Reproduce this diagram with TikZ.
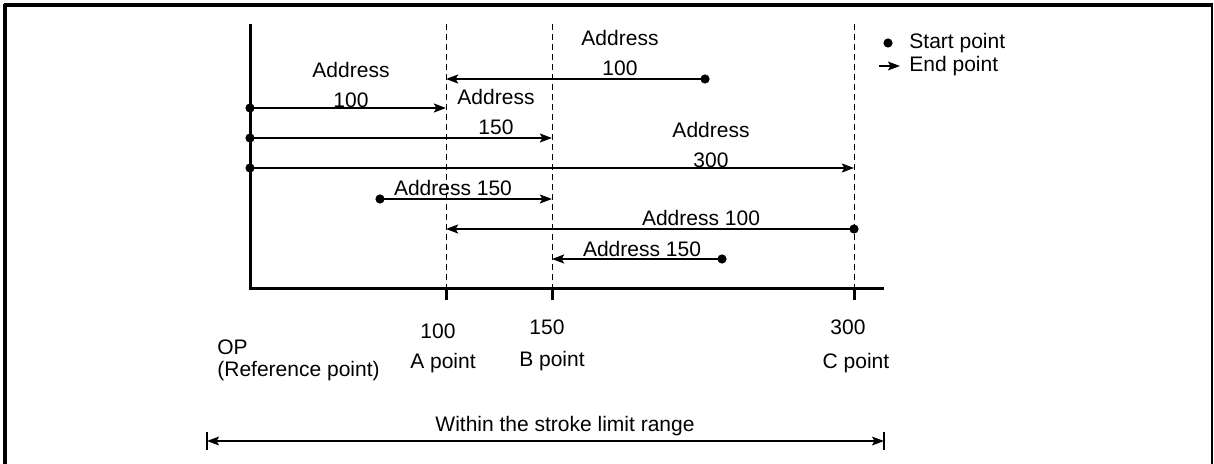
\documentclass[tikz,border=0pt]{standalone}
\usepackage{fontspec}
\setmainfont{Liberation Sans}
\usetikzlibrary{arrows.meta, positioning}
\tikzset{
  >={Stealth[length=6pt,width=4.4pt,inset=1.2pt]},
  lbl/.style={font=\fontsize{10.5}{15}\selectfont, inner sep=0pt, align=center},
  axisline/.style={line width=1.5pt},
  guide/.style={line width=0.5pt, dash pattern=on 3pt off 2pt},
  move/.style={line width=1.2pt, ->},
  tickmark/.style={line width=1.5pt},
  strokerange/.style={line width=0.65pt, <->}
}

\begin{document}
\begin{tikzpicture}[x=0.5pt,y=-0.5pt]
  \useasboundingbox (0,0) rectangle (1214,464);
  % frame, open at the bottom
  \draw[line width=1.8pt] (5,464) -- (5,4);
  \draw[line width=2pt] (4,5) -- (1213,5);
  \draw[line width=1.2pt] (1212,4) -- (1212,464);

  % axes
  \coordinate (O) at (250,289);
  \coordinate (ytop) at (250,24);
  \coordinate (xend) at (884,289);
  \draw[axisline] (ytop) -- (O) -- (xend);

  % A, B, C points
  \foreach \name/\x/\val/\vx/\vy/\px/\py in {
      A/446/100/438/331/443/363,
      B/552/150/547/327/552/361,
      C/854/300/848/327/856/363} {
    \coordinate (\name) at (\x,289);
    \coordinate (\name top) at (\x,24);
    \draw[guide] (\name top) -- (\name);
    \draw[tickmark] (\name) -- ++(0,11);
    \node[lbl] (val\name) at (\vx,\vy) {\val};
    \node[lbl] (pt\name) at (\px,\py) {\name\ point};
  }

  % moves: start dot -> end point
  \foreach \n/\sx/\ex/\y in {1/705/446/79, 2/250/446/108, 3/250/552/138,
      4/250/854/168, 5/380/552/199, 6/854/446/229, 7/722/552/259} {
    \coordinate (s\n) at (\sx,\y);
    \coordinate (e\n) at (\ex,\y);
    \draw[move] (s\n) -- (e\n);
    \fill (s\n) circle (2.3pt);
  }

  % address labels
  \node[lbl] (adr1) at (620,53) {Address\\100};
  \node[lbl] (adr2) at (351,85) {Address\\100};
  \node[lbl] (adr3) at (496,112) {Address\\150};
  \node[lbl] (adr4) at (711,145) {Address\\300};
  \node[lbl] (adr5) at (453,188) {Address 150};
  \node[lbl] (adr6) at (701,218) {Address 100};
  \node[lbl] (adr7) at (642,249) {Address 150};

  % reference point
  \node[lbl, align=left, anchor=west] (op) at (217,360) {OP\\[-4pt](Reference point)};

  % legend
  \coordinate (legdot) at (888,43);
  \coordinate (legfrom) at (879,66);
  \coordinate (legto) at (900,66);
  \fill (legdot) circle (2.3pt);
  \draw[line width=0.8pt, ->] (legfrom) -- (legto);
  \node[lbl, anchor=west] (legstart) at (909,43) {Start point};
  \node[lbl, anchor=west] (legend) at (909,66) {End point};

  % stroke limit range
  \coordinate (rl) at (207,441);
  \coordinate (rr) at (884,441);
  \draw[strokerange] (rl) -- (rr);
  \draw[line width=1pt] (rl) ++(0,-9) -- ++(0,18);
  \draw[line width=1pt] (rr) ++(0,-9) -- ++(0,18);
  \node[lbl] (within) at (565,426) {Within the stroke limit range};
\end{tikzpicture}
\end{document}
